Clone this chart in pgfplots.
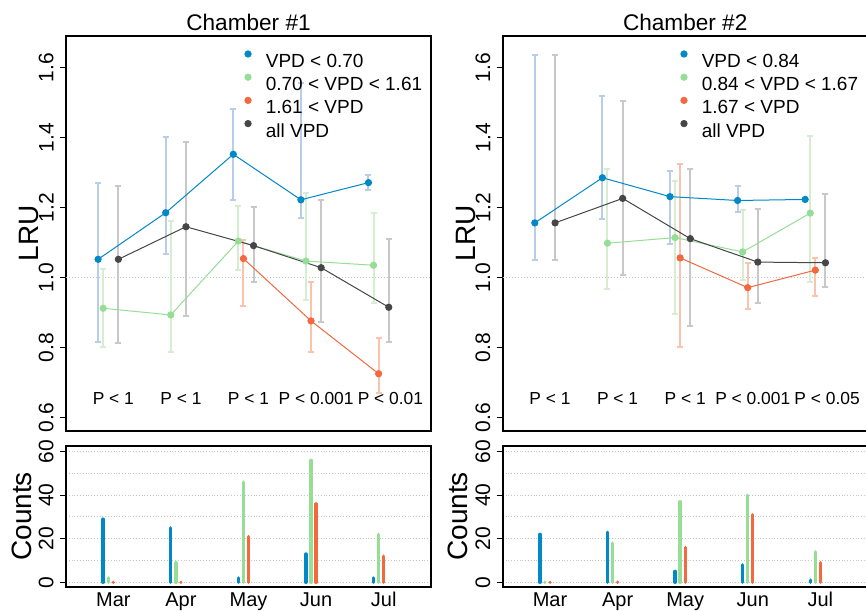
\documentclass[border=0pt]{standalone}
\usepackage{fontspec}
\setmainfont{Liberation Sans}
\usepackage{pgfplots}
\usepackage{pgfplotstable}
\pgfplotsset{compat=1.18}

\definecolor{cblue}{RGB}{0,136,200}
\definecolor{cgreen}{RGB}{150,222,150}
\definecolor{corange}{RGB}{243,104,62}
\definecolor{cblack}{RGB}{70,70,70}
\definecolor{eblue}{RGB}{184,206,232}
\definecolor{egreen}{RGB}{214,237,210}
\definecolor{eorange}{RGB}{248,195,175}
\definecolor{egray}{RGB}{200,200,200}

% m = month (1 = Mar), y = mean LRU, lo/hi = error bar ends
\pgfplotstableread{
m y lo hi
1 1.052 0.817 1.271
2 1.185 1.066 1.400
3 1.352 1.221 1.482
4 1.222 1.169 1.555
5 1.271 1.249 1.293
}\aBlue
\pgfplotstableread{
m y lo hi
1 0.912 0.802 1.024
2 0.893 0.787 1.161
3 1.104 1.020 1.204
4 1.047 0.935 1.240
5 1.035 0.928 1.185
}\aGreen
\pgfplotstableread{
m y lo hi
3 1.054 0.919 1.107
4 0.876 0.786 0.988
5 0.725 0.671 0.828
}\aOrange
\pgfplotstableread{
m y lo hi
1 1.052 0.814 1.262
2 1.145 0.889 1.388
3 1.091 0.988 1.201
4 1.028 0.874 1.221
5 0.915 0.817 1.110
}\aBlack
\pgfplotstableread{
m y lo hi
1 1.156 1.050 1.635
2 1.285 1.167 1.519
3 1.231 1.095 1.305
4 1.220 1.188 1.260
5 1.223 1.223 1.223
}\bBlue
\pgfplotstableread{
m y lo hi
2 1.098 0.968 1.310
3 1.114 0.897 1.277
4 1.073 0.993 1.192
5 1.184 0.986 1.404
}\bGreen
\pgfplotstableread{
m y lo hi
3 1.056 0.801 1.323
4 0.971 0.910 1.042
5 1.021 0.947 1.057
}\bOrange
\pgfplotstableread{
m y lo hi
1 1.156 1.050 1.635
2 1.226 1.008 1.505
3 1.111 0.862 1.310
4 1.044 0.928 1.197
5 1.042 0.972 1.239
}\bBlack
% counts per VPD class
\pgfplotstableread{
m b g o
1 29 2 0
2 25 9 0
3 2 46 21
4 13 56 36
5 2 22 12
}\aCnt
\pgfplotstableread{
m b g o
1 22 0 0
2 23 18 0
3 5 37 16
4 8 40 31
5 1 14 9
}\bCnt

\tikzset{ptext/.style={font=\fontsize{8.7}{10}\selectfont, anchor=center}}
\pgfplotsset{
  base/.style={scale only axis, width=182.5pt, xmin=0.3, xmax=5.7,
    clip=false, tick align=outside, major tick length=3pt,
    ytick pos=left, axis line style={line width=1pt},
    y tick style={line width=0.6pt, black},
    yticklabel shift=3pt,
    yticklabel style={rotate=90, anchor=south, inner sep=0pt,
      font=\fontsize{10.5}{12}\selectfont},
    ylabel style={at={(axis description cs:-0.101,0.5)}, anchor=center,
      font=\fontsize{14}{16}\selectfont}},
  lru/.style={base, height=197.5pt, ymin=0.5614, ymax=1.69,
    xtick=\empty, ytick={0.6,0.8,1.0,1.2,1.4,1.6},
    yticklabels={0.6,0.8,1.0,1.2,1.4,1.6}, ylabel={LRU},
    every axis title shift=0pt,
    title style={at={(axis description cs:0.5,1.0354)}, anchor=center,
      font=\fontsize{11.3}{13}\selectfont},
    legend style={anchor=north west, draw=none, fill=none, inner sep=0pt,
      font=\fontsize{9.5}{11}\selectfont, row sep=3.0pt, column sep=7.1pt,
      nodes={inner sep=0pt, text height=6.8pt, text depth=0pt}},
    legend cell align=left,
    legend image code/.code={\fill[##1] (0pt,3.4pt) circle (1.6pt);}},
  cnt/.style={base, height=70.35pt, ymin=-2.02, ymax=62.6,
    ytick={0,20,40,60}, yticklabels={0,20,40,60},
    minor ytick={10,30,50}, minor tick length=0pt,
    ymajorgrids, yminorgrids,
    grid style={densely dotted, gray!45, line width=0.5pt},
    xtick={1,2,3,4,5}, xticklabels={Mar,Apr,May,Jun,Jul},
    x tick style={draw=none},
    xticklabel style={anchor=north, inner sep=0pt, yshift=0.4pt,
      font=\fontsize{10}{12}\selectfont},
    ylabel={Counts}, ylabel style={at={(axis description cs:-0.122,0.5)}}},
  % error bars only: the marks of these plots are made invisible
  errs/.style={only marks, mark=*, mark size=0pt,
    mark options={draw=none, fill=none}, forget plot,
    error bars/y dir=both, error bars/y explicit,
    error bars/error mark=|,
    error bars/error bar style={color=#1, line width=1pt},
    error bars/error mark options={color=#1, line width=1pt, mark size=1.5pt}},
  ser/.style={color=#1, line width=0.5pt, mark=*, mark size=1.55pt,
    mark options={solid, draw=none, fill=#1}, forget plot},
  bar/.style={ycomb, color=#1, line width=1.7pt, line cap=round, forget plot},
}

\begin{document}
\begin{tikzpicture}
% ---------------- Chamber 1 ----------------
\begin{axis}[lru, at={(33pt,89.5pt)}, title={Chamber \#1},
  legend style={at={(axis cs:2.934,1.650)}}]
\draw[densely dotted, gray!45, line width=0.5pt] (axis cs:0.3,1) -- (axis cs:5.7,1);
\addplot[errs=eblue] table[x expr=\thisrow{m}-0.225, y=y,
  y error plus expr=\thisrow{hi}-\thisrow{y}, y error minus expr=\thisrow{y}-\thisrow{lo}]{\aBlue};
\addplot[errs=egreen] table[x expr=\thisrow{m}-0.15, y=y,
  y error plus expr=\thisrow{hi}-\thisrow{y}, y error minus expr=\thisrow{y}-\thisrow{lo}]{\aGreen};
\addplot[errs=eorange] table[x expr=\thisrow{m}-0.075, y=y,
  y error plus expr=\thisrow{hi}-\thisrow{y}, y error minus expr=\thisrow{y}-\thisrow{lo}]{\aOrange};
\addplot[errs=egray] table[x expr=\thisrow{m}+0.075, y=y,
  y error plus expr=\thisrow{hi}-\thisrow{y}, y error minus expr=\thisrow{y}-\thisrow{lo}]{\aBlack};
\addplot[ser=cblue] table[x expr=\thisrow{m}-0.225, y=y]{\aBlue};
\addplot[ser=cgreen] table[x expr=\thisrow{m}-0.15, y=y]{\aGreen};
\addplot[ser=corange] table[x expr=\thisrow{m}-0.075, y=y]{\aOrange};
\addplot[ser=cblack] table[x expr=\thisrow{m}+0.075, y=y]{\aBlack};
\addlegendimage{cblue}\addlegendentry{VPD < 0.70}
\addlegendimage{cgreen}\addlegendentry{0.70 < VPD < 1.61}
\addlegendimage{corange}\addlegendentry{1.61 < VPD}
\addlegendimage{cblack}\addlegendentry{all VPD}
\node[ptext] at (axis cs:1,0.653) {P < 1};
\node[ptext] at (axis cs:2,0.653) {P < 1};
\node[ptext] at (axis cs:3,0.653) {P < 1};
\node[ptext] at (axis cs:4,0.653) {P < 0.001};
\node[ptext] at (axis cs:5.1,0.653) {P < 0.01};
\end{axis}
\begin{axis}[cnt, at={(33pt,11.65pt)}]
\addplot[bar=cblue] table[x expr=\thisrow{m}-0.15, y=b]{\aCnt};
\addplot[bar=cgreen] table[x expr=\thisrow{m}-0.075, y=g]{\aCnt};
\addplot[bar=corange] table[x=m, y=o]{\aCnt};
\end{axis}
% ---------------- Chamber 2 ----------------
\begin{axis}[lru, at={(251.35pt,89.5pt)}, title={Chamber \#2},
  legend style={at={(axis cs:2.923,1.650)}}]
\draw[densely dotted, gray!45, line width=0.5pt] (axis cs:0.3,1) -- (axis cs:5.7,1);
\addplot[skip coords between index={4}{5}, errs=eblue] table[x expr=\thisrow{m}-0.225, y=y,
  y error plus expr=\thisrow{hi}-\thisrow{y}, y error minus expr=\thisrow{y}-\thisrow{lo}]{\bBlue};
\addplot[errs=egreen] table[x expr=\thisrow{m}-0.15, y=y,
  y error plus expr=\thisrow{hi}-\thisrow{y}, y error minus expr=\thisrow{y}-\thisrow{lo}]{\bGreen};
\addplot[errs=eorange] table[x expr=\thisrow{m}-0.075, y=y,
  y error plus expr=\thisrow{hi}-\thisrow{y}, y error minus expr=\thisrow{y}-\thisrow{lo}]{\bOrange};
\addplot[errs=egray] table[x expr=\thisrow{m}+0.075, y=y,
  y error plus expr=\thisrow{hi}-\thisrow{y}, y error minus expr=\thisrow{y}-\thisrow{lo}]{\bBlack};
\addplot[ser=cblue] table[x expr=\thisrow{m}-0.225, y=y]{\bBlue};
\addplot[ser=cgreen] table[x expr=\thisrow{m}-0.15, y=y]{\bGreen};
\addplot[ser=corange] table[x expr=\thisrow{m}-0.075, y=y]{\bOrange};
\addplot[ser=cblack] table[x expr=\thisrow{m}+0.075, y=y]{\bBlack};
\addlegendimage{cblue}\addlegendentry{VPD < 0.84}
\addlegendimage{cgreen}\addlegendentry{0.84 < VPD < 1.67}
\addlegendimage{corange}\addlegendentry{1.67 < VPD}
\addlegendimage{cblack}\addlegendentry{all VPD}
\node[ptext] at (axis cs:1,0.653) {P < 1};
\node[ptext] at (axis cs:2,0.653) {P < 1};
\node[ptext] at (axis cs:3,0.653) {P < 1};
\node[ptext] at (axis cs:4,0.653) {P < 0.001};
\node[ptext] at (axis cs:5.1,0.653) {P < 0.05};
\end{axis}
\begin{axis}[cnt, at={(251.35pt,11.65pt)}]
\addplot[bar=cblue] table[x expr=\thisrow{m}-0.15, y=b]{\bCnt};
\addplot[bar=cgreen] table[x expr=\thisrow{m}-0.075, y=g]{\bCnt};
\addplot[bar=corange] table[x=m, y=o]{\bCnt};
\end{axis}
\pgfresetboundingbox
\path (0pt,0pt) rectangle (433pt,305pt);
\end{tikzpicture}
\end{document}
